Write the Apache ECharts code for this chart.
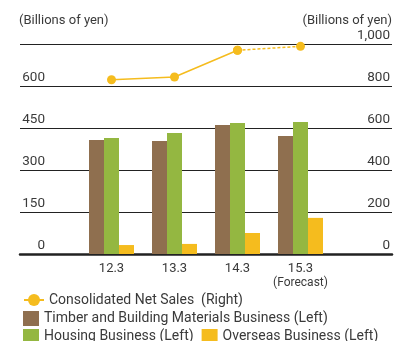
<!DOCTYPE html>
<html><head><meta charset="utf-8">
<script src="https://cdn.jsdelivr.net/npm/echarts@6/dist/echarts.min.js"></script>
<style>html,body{margin:0;padding:0;background:#fff}#c{width:395px;height:341px}</style>
</head><body><div id="c"></div>
<script>
const categories = ['12.3', '13.3', '14.3', '15.3'];
const timber = [407, 404, 461, 421];
const housing = [414, 432, 468, 471];
const overseas = [32, 36, 75, 129];
const netSales = [830, 843, 970, 989];
const leftTicks = [0, 150, 300, 450, 600, 750];
const rightTicks = [0, 200, 400, 600, 800, 1000];

const FONT = 'Roboto';
const TXT = '#3a3a3a';
const cBrown = '#8f6f4f', cGreen = '#94b741', cYellow = '#f5bc1e';
const nmLine = 'Consolidated Net Sales  (Right)';
const nmTimber = 'Timber and Building Materials Business (Left)';
const nmHousing = 'Housing Business (Left)';
const nmOverseas = 'Overseas Business (Left)';

const lineSolid = netSales.map((v, i) => i < 3 ? v : '-');
const lineDash = netSales.map((v, i) => i >= 2 ? v : '-');

const chart = echarts.init(document.getElementById('c'), null, {renderer: 'canvas'});
const grids = [
  {left: 20, right: 0, top: 44, height: 210},
  {left: 80, width: 252, top: 44, height: 210}
];
const lblStyle = {color: TXT, fontFamily: FONT, fontSize: 13.5};
chart.setOption({
  animation: false,
  textStyle: {fontFamily: FONT},
  grid: grids,
  xAxis: [
    {gridIndex: 0, type: 'category', data: [''], axisLine: {lineStyle: {color: '#222', width: 2.5}}, axisTick: {show: false}, axisLabel: {show: false}},
    {gridIndex: 1, type: 'category', data: categories, axisLine: {show: false}, axisTick: {show: false},
     axisLabel: {interval: 0, margin: 8, color: TXT, fontFamily: FONT, fontSize: 13, lineHeight: 14,
       formatter: v => v === '15.3' ? v + '\n{f|(Forecast)}' : v,
       rich: {f: {fontSize: 12, color: TXT, fontFamily: FONT, lineHeight: 13}}}}
  ],
  yAxis: [
    {gridIndex: 0, type: 'value', min: 0, max: 750, interval: 150, position: 'left',
     name: '(Billions of yen)', nameLocation: 'end', nameGap: 17,
     nameTextStyle: {align: 'left', color: TXT, fontFamily: FONT, fontSize: 13, padding: [0, 0, 0, -1]},
     axisLine: {show: false}, axisTick: {show: false},
     splitLine: {lineStyle: {color: '#222', width: 1.2}},
     axisLabel: {inside: true, margin: 25, align: 'right', verticalAlign: 'bottom', padding: [0, 0, 1, 0], ...lblStyle,
       formatter: v => (v === 750 ? '' : String(v))}},
    {gridIndex: 0, type: 'value', min: 0, max: 1000, interval: 200, position: 'right',
     name: '(Billions of yen)', nameLocation: 'end', nameGap: 17,
     nameTextStyle: {align: 'right', color: TXT, fontFamily: FONT, fontSize: 13},
     axisLine: {show: false}, axisTick: {show: false}, splitLine: {show: false},
     axisLabel: {inside: true, margin: 2, verticalAlign: 'bottom', padding: [0, 0, 1, 0], ...lblStyle,
       formatter: v => v.toLocaleString('en-US')}},
    {gridIndex: 1, type: 'value', min: 0, max: 750, interval: 150, show: false},
    {gridIndex: 1, type: 'value', min: 0, max: 1000, interval: 200, show: false}
  ],
  legend: [
    {left: 18, top: 288, itemWidth: 20, itemHeight: 15, itemGap: 8, data: [nmLine],
     textStyle: {color: TXT, fontFamily: FONT, fontSize: 14}},
    {left: 18, top: 306, itemWidth: 16, itemHeight: 15, data: [{name: nmTimber, icon: 'rect'}],
     textStyle: {color: TXT, fontFamily: FONT, fontSize: 14}},
    {left: 18, top: 324, itemWidth: 16, itemHeight: 15, itemGap: 8,
     data: [{name: nmHousing, icon: 'rect'}, {name: nmOverseas, icon: 'rect'}],
     textStyle: {color: TXT, fontFamily: FONT, fontSize: 14}}
  ],
  series: [
    {name: nmTimber, type: 'bar', xAxisIndex: 1, yAxisIndex: 2, data: timber, barWidth: 15, barGap: '0%', itemStyle: {color: cBrown}},
    {name: nmHousing, type: 'bar', xAxisIndex: 1, yAxisIndex: 2, data: housing, barWidth: 15, barGap: '0%', itemStyle: {color: cGreen}},
    {name: nmOverseas, type: 'bar', xAxisIndex: 1, yAxisIndex: 2, data: overseas, barWidth: 15, barGap: '0%', itemStyle: {color: cYellow}},
    {name: nmLine, type: 'line', xAxisIndex: 1, yAxisIndex: 3, data: lineSolid, symbol: 'circle', symbolSize: 9,
     lineStyle: {color: cYellow, width: 1.5}, itemStyle: {color: cYellow}, z: 5},
    {name: nmLine + ' ', type: 'line', xAxisIndex: 1, yAxisIndex: 3, data: lineDash, symbol: 'circle', symbolSize: 9,
     lineStyle: {color: cYellow, width: 1.5, type: [3, 2]}, itemStyle: {color: cYellow}, z: 5}
  ]
});
</script></body></html>
